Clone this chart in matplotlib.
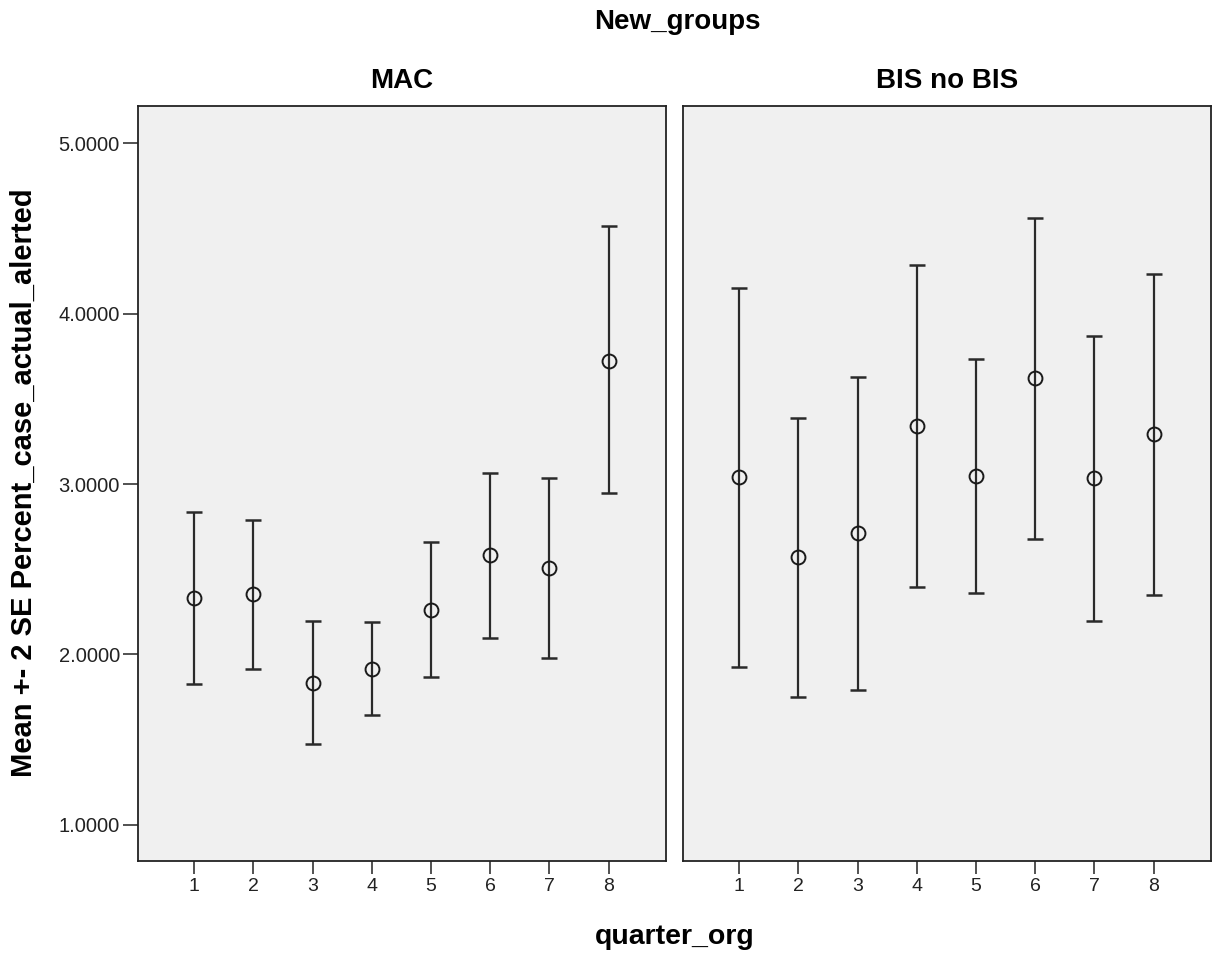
import matplotlib
matplotlib.use("Agg")
import matplotlib.pyplot as plt
import numpy as np

plt.rcParams['font.family'] = ['Liberation Sans', 'DejaVu Sans']

quarters = [1, 2, 3, 4, 5, 6, 7, 8]
groups = ["MAC", "BIS no BIS"]

# Mean and mean +- 2 SE per quarter for each group
mac_mean = [2.329, 2.352, 1.834, 1.916, 2.260, 2.581, 2.509, 3.724]
mac_low = [1.824, 1.916, 1.472, 1.642, 1.865, 2.098, 1.977, 2.945]
mac_high = [2.837, 2.791, 2.198, 2.190, 2.658, 3.065, 3.037, 4.513]

bis_mean = [3.043, 2.572, 2.711, 3.341, 3.049, 3.623, 3.034, 3.294]
bis_low = [1.928, 1.752, 1.791, 2.396, 2.361, 2.680, 2.194, 2.349]
bis_high = [4.153, 3.390, 3.631, 4.287, 3.736, 4.564, 3.870, 4.235]

y_ticks = [1.0, 2.0, 3.0, 4.0, 5.0]

series = [(mac_mean, mac_low, mac_high), (bis_mean, bis_low, bis_high)]

W, H = 1217, 957
fig = plt.figure(figsize=(W / 100, H / 100), dpi=100)
fig.patch.set_facecolor("white")

panel_px = [(138, 666), (683, 1211)]
top_px, bot_px = 106, 861

for i, ((x0, x1), name, (m, lo, hi)) in enumerate(zip(panel_px, groups, series)):
    ax = fig.add_axes([x0 / W, 1 - bot_px / H, (x1 - x0) / W, (bot_px - top_px) / H])
    ax.set_facecolor("#f0f0f0")
    m = np.array(m)
    lo = np.array(lo)
    hi = np.array(hi)
    ax.errorbar(quarters, m, yerr=[m - lo, hi - m], fmt="none",
                ecolor="#2a2a2a", elinewidth=1.6, capsize=5.5, capthick=1.8, zorder=2)
    ax.plot(quarters, m, linestyle="none", marker="o", markersize=10,
            markerfacecolor="none", markeredgecolor="#1a1a1a", markeredgewidth=1.4, zorder=3)
    ax.set_xlim(0.05, 8.97)
    ax.set_ylim(0.787, 5.22)
    ax.set_xticks(quarters)
    ax.set_xticklabels([str(q) for q in quarters], fontsize=14, color="#222222")
    ax.tick_params(axis="x", length=9, width=1.2, color="#333333", pad=3)
    if i == 0:
        ax.set_yticks(y_ticks)
        ax.set_yticklabels([f"{v:.4f}" for v in y_ticks], fontsize=14.5, color="#222222")
        ax.tick_params(axis="y", length=11, width=1.2, color="#333333", pad=2)
    else:
        ax.set_yticks([])
    for s in ax.spines.values():
        s.set_linewidth(1.3)
        s.set_color("#222222")
    fig.text(((x0 + x1) / 2) / W, 1 - 81 / H, name, ha="center", va="center",
             fontsize=20, fontweight="bold")

fig.text(677 / W, 1 - 22 / H, "New_groups", ha="center", va="center",
         fontsize=20, fontweight="bold")
fig.text(675 / W, 1 - 937 / H, "quarter_org", ha="center", va="center",
         fontsize=20.5, fontweight="bold")
fig.text(24 / W, 1 - 483 / H, "Mean +- 2 SE Percent_case_actual_alerted", ha="center",
         va="center", rotation=90, fontsize=21, fontweight="bold")

fig.savefig("out.png", dpi=100)
